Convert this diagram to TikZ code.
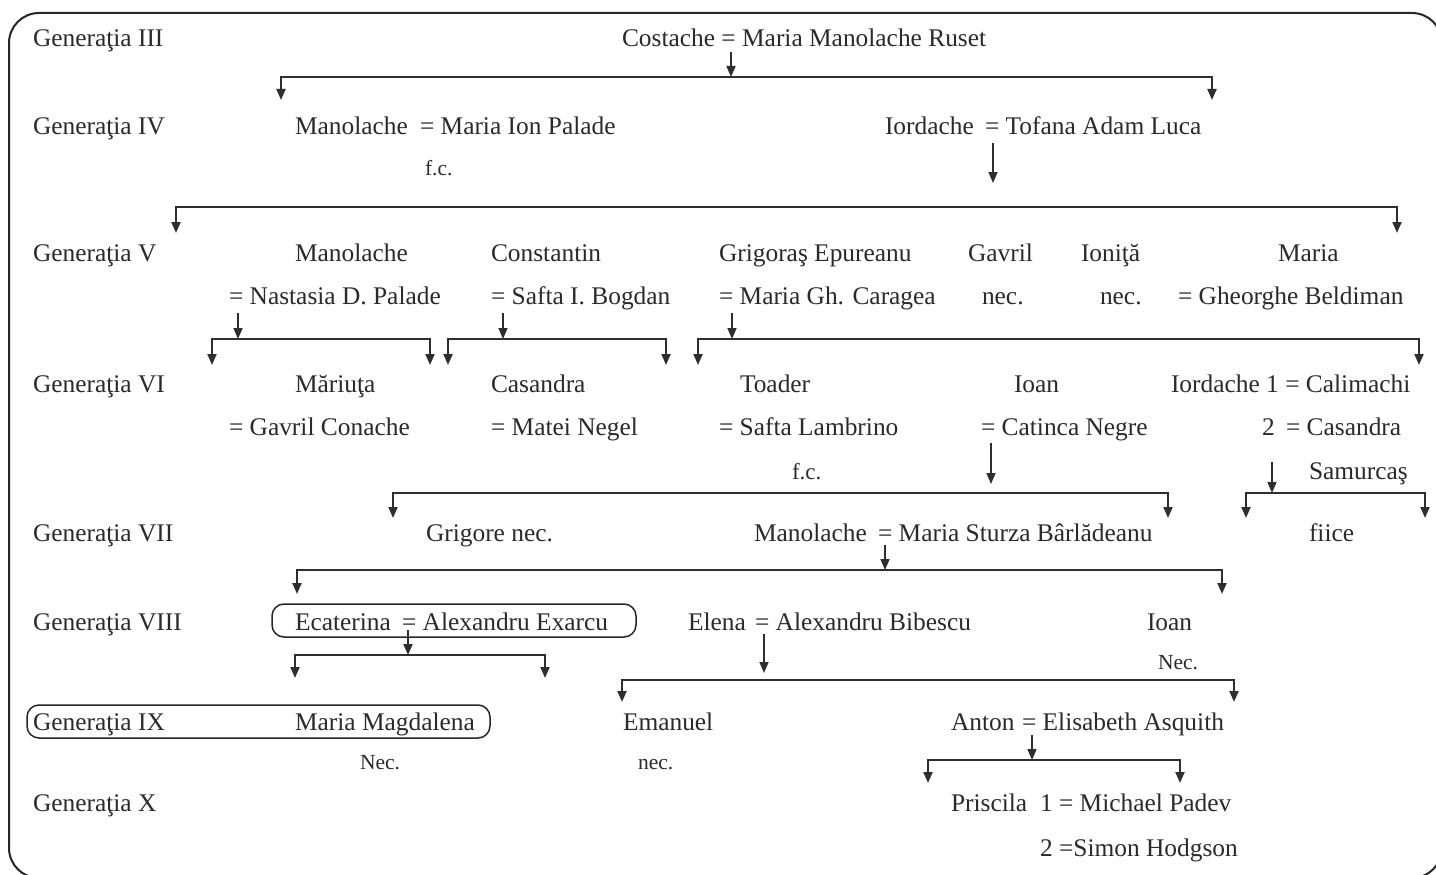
\documentclass[tikz,border=0pt]{standalone}
\usepackage{fontspec}
\setmainfont{Liberation Serif}
\usetikzlibrary{arrows.meta}
\definecolor{ink}{HTML}{2A2A2A}
\definecolor{wire}{HTML}{2E2E2E}
\newcommand\famBus[6]{% name, ybus, xleft, xright, ytip
  \coordinate (#1l) at (#3,#2);
  \coordinate (#1r) at (#4,#2);
  \coordinate (#1lt) at (#3,#5);
  \coordinate (#1rt) at (#4,#5);
  \draw[bus] (#1lt) -- (#1l) -- (#1r) -- (#1rt);
}
\begin{document}
\begin{tikzpicture}[x=1pt,y=-1pt,
  txt/.style={anchor=base west,inner sep=0pt,outer sep=0pt,text=ink,font=\fontsize{25.4}{30}\selectfont},
  sm/.style={txt,font=\fontsize{21.5}{26}\selectfont},
  bus/.style={draw=wire,line width=2pt,{Triangle[length=11pt,width=9pt]}-{Triangle[length=11pt,width=9pt]}},
  arr/.style={draw=wire,line width=1.6pt,-{Triangle[length=11pt,width=9pt]}},
  hl/.style={draw=black!85,line width=1.5pt,rounded corners=12pt}]
\clip (0,0) rectangle (1436,875);
\useasboundingbox (0,0) rectangle (1436,875);
\fill[white] (0,0) rectangle (1436,875);
% outer frame
\draw[draw=black!85,line width=2pt,rounded corners=30pt] (9,13) rectangle (1442,878);

% generation labels
\node[txt] (g3) at (33,47) {Generaţia III};
\node[txt] (g4) at (33,135) {Generaţia IV};
\node[txt] (g5) at (33,261) {Generaţia V};
\node[txt] (g6) at (33,392) {Generaţia VI};
\node[txt] (g7) at (33,541) {Generaţia VII};
\node[txt] (g8) at (33,630) {Generaţia VIII};
\node[txt] (g9) at (33,730) {Generaţia IX};
\node[txt] (g10) at (33,811) {Generaţia X};

% generation III
\node[txt] (costache) at (622,47) {Costache = Maria Manolache Ruset};
% generation IV
\node[txt] (manolacheA) at (295,135) {Manolache};
\node[txt] (mariaIP) at (420,135) {= Maria Ion Palade};
\node[sm] (fc1) at (425,175) {f.c.};
\node[txt] (iordacheA) at (885,135) {Iordache};
\node[txt] (tofana) at (985,135) {= Tofana Adam Luca};
% generation V
\node[txt] (manolacheB) at (295,261) {Manolache};
\node[txt] (constantin) at (491,261) {Constantin};
\node[txt] (grigoras) at (719,261) {Grigoraş Epureanu};
\node[txt] (gavril) at (968,261) {Gavril};
\node[txt] (ionita) at (1081,261) {Ioniţă};
\node[txt] (mariaB) at (1278,261) {Maria};
\node[txt] (nastasia) at (229,304) {= Nastasia D. Palade};
\node[txt] (saftaB) at (491,304) {= Safta I. Bogdan};
\node[txt] (caragea) at (719,304) {= Maria Gh. Caragea};
\node[txt] (nec1) at (982,304) {nec.};
\node[txt] (nec2) at (1100,304) {nec.};
\node[txt] (beldiman) at (1178,304) {= Gheorghe Beldiman};
% generation VI
\node[txt] (mariuta) at (295,392) {Măriuţa};
\node[txt] (casandra) at (491,392) {Casandra};
\node[txt] (toader) at (740,392) {Toader};
\node[txt] (ioanA) at (1014,392) {Ioan};
\node[txt] (iordacheB) at (1171,392) {Iordache 1 = Calimachi};
\node[txt] (conache) at (229,435) {= Gavril Conache};
\node[txt] (negel) at (491,435) {= Matei Negel};
\node[txt] (lambrino) at (719,435) {= Safta Lambrino};
\node[txt] (catinca) at (981,435) {= Catinca Negre};
\node[txt] (two) at (1262,435) {2};
\node[txt] (casandraS) at (1286,435) {= Casandra};
\node[txt,font=\fontsize{23}{28}\selectfont] (fc2) at (792,479) {f.c.};
\node[txt] (samurcas) at (1309,479) {Samurcaş};
% generation VII
\node[txt] (grigore) at (426,541) {Grigore nec.};
\node[txt] (manolacheC) at (754,541) {Manolache};
\node[txt] (sturza) at (878,541) {= Maria Sturza Bârlădeanu};
\node[txt] (fiice) at (1309,541) {fiice};
% generation VIII
\node[txt] (ecaterina) at (295,630) {Ecaterina};
\node[txt] (exarcu) at (402,630) {= Alexandru Exarcu};
\node[txt] (elena) at (688,630) {Elena};
\node[txt] (bibescu) at (755,630) {= Alexandru Bibescu};
\node[txt] (ioanB) at (1147,630) {Ioan};
\node[sm] (nec3) at (1158,669) {Nec.};
% generation IX
\node[txt] (magdalena) at (295,730) {Maria Magdalena};
\node[txt] (emanuel) at (623,730) {Emanuel};
\node[txt] (anton) at (951,730) {Anton};
\node[txt] (asquith) at (1022,730) {= Elisabeth Asquith};
\node[sm] (nec4) at (360,769) {Nec.};
\node[sm] (nec5) at (638,769) {nec.};
% generation X
\node[txt] (priscila) at (951,811) {Priscila};
\node[txt] (padev) at (1040,811) {1 = Michael Padev};
\node[txt] (hodgson) at (1040,856) {2 =Simon Hodgson};

% highlight boxes
\draw[hl] (272,604) rectangle (636,637);
\draw[hl] (27,705) rectangle (490,738);

% family buses
\famBus{b1}{77}{281}{1212}{100}{}
\famBus{b2}{207}{176}{1397}{233}{}
\famBus{b3}{339}{212}{430}{365}{}
\famBus{b4}{339}{448}{666}{365}{}
\famBus{b5}{339}{698}{1419}{365}{}
\famBus{b6}{493}{393}{1168}{518}{}
\famBus{b7}{493}{1246}{1425}{518}{}
\famBus{b8}{570}{297}{1222}{594}{}
\famBus{b9}{655}{295}{545}{678}{}
\famBus{b10}{680}{622}{1234}{702}{}
\famBus{b11}{760}{928}{1180}{783}{}

% descent arrows
\coordinate (s1) at (731,52);   \coordinate (e1) at (731,77);
\coordinate (s2) at (993,143);  \coordinate (e2) at (993,183);
\coordinate (s3) at (238,313);  \coordinate (e3) at (238,339);
\coordinate (s4) at (503,313);  \coordinate (e4) at (503,339);
\coordinate (s5) at (732,313);  \coordinate (e5) at (732,339);
\coordinate (s6) at (991,443);  \coordinate (e6) at (991,484);
\coordinate (s7) at (1272,462); \coordinate (e7) at (1272,493);
\coordinate (s8) at (885,545);  \coordinate (e8) at (885,570);
\coordinate (s9) at (408,630);  \coordinate (e9) at (408,655);
\coordinate (s10) at (764,634); \coordinate (e10) at (764,673);
\coordinate (s11) at (1032,735);\coordinate (e11) at (1032,760);
\foreach \i in {1,...,11}{\draw[arr] (s\i) -- (e\i);}
\end{tikzpicture}
\end{document}
